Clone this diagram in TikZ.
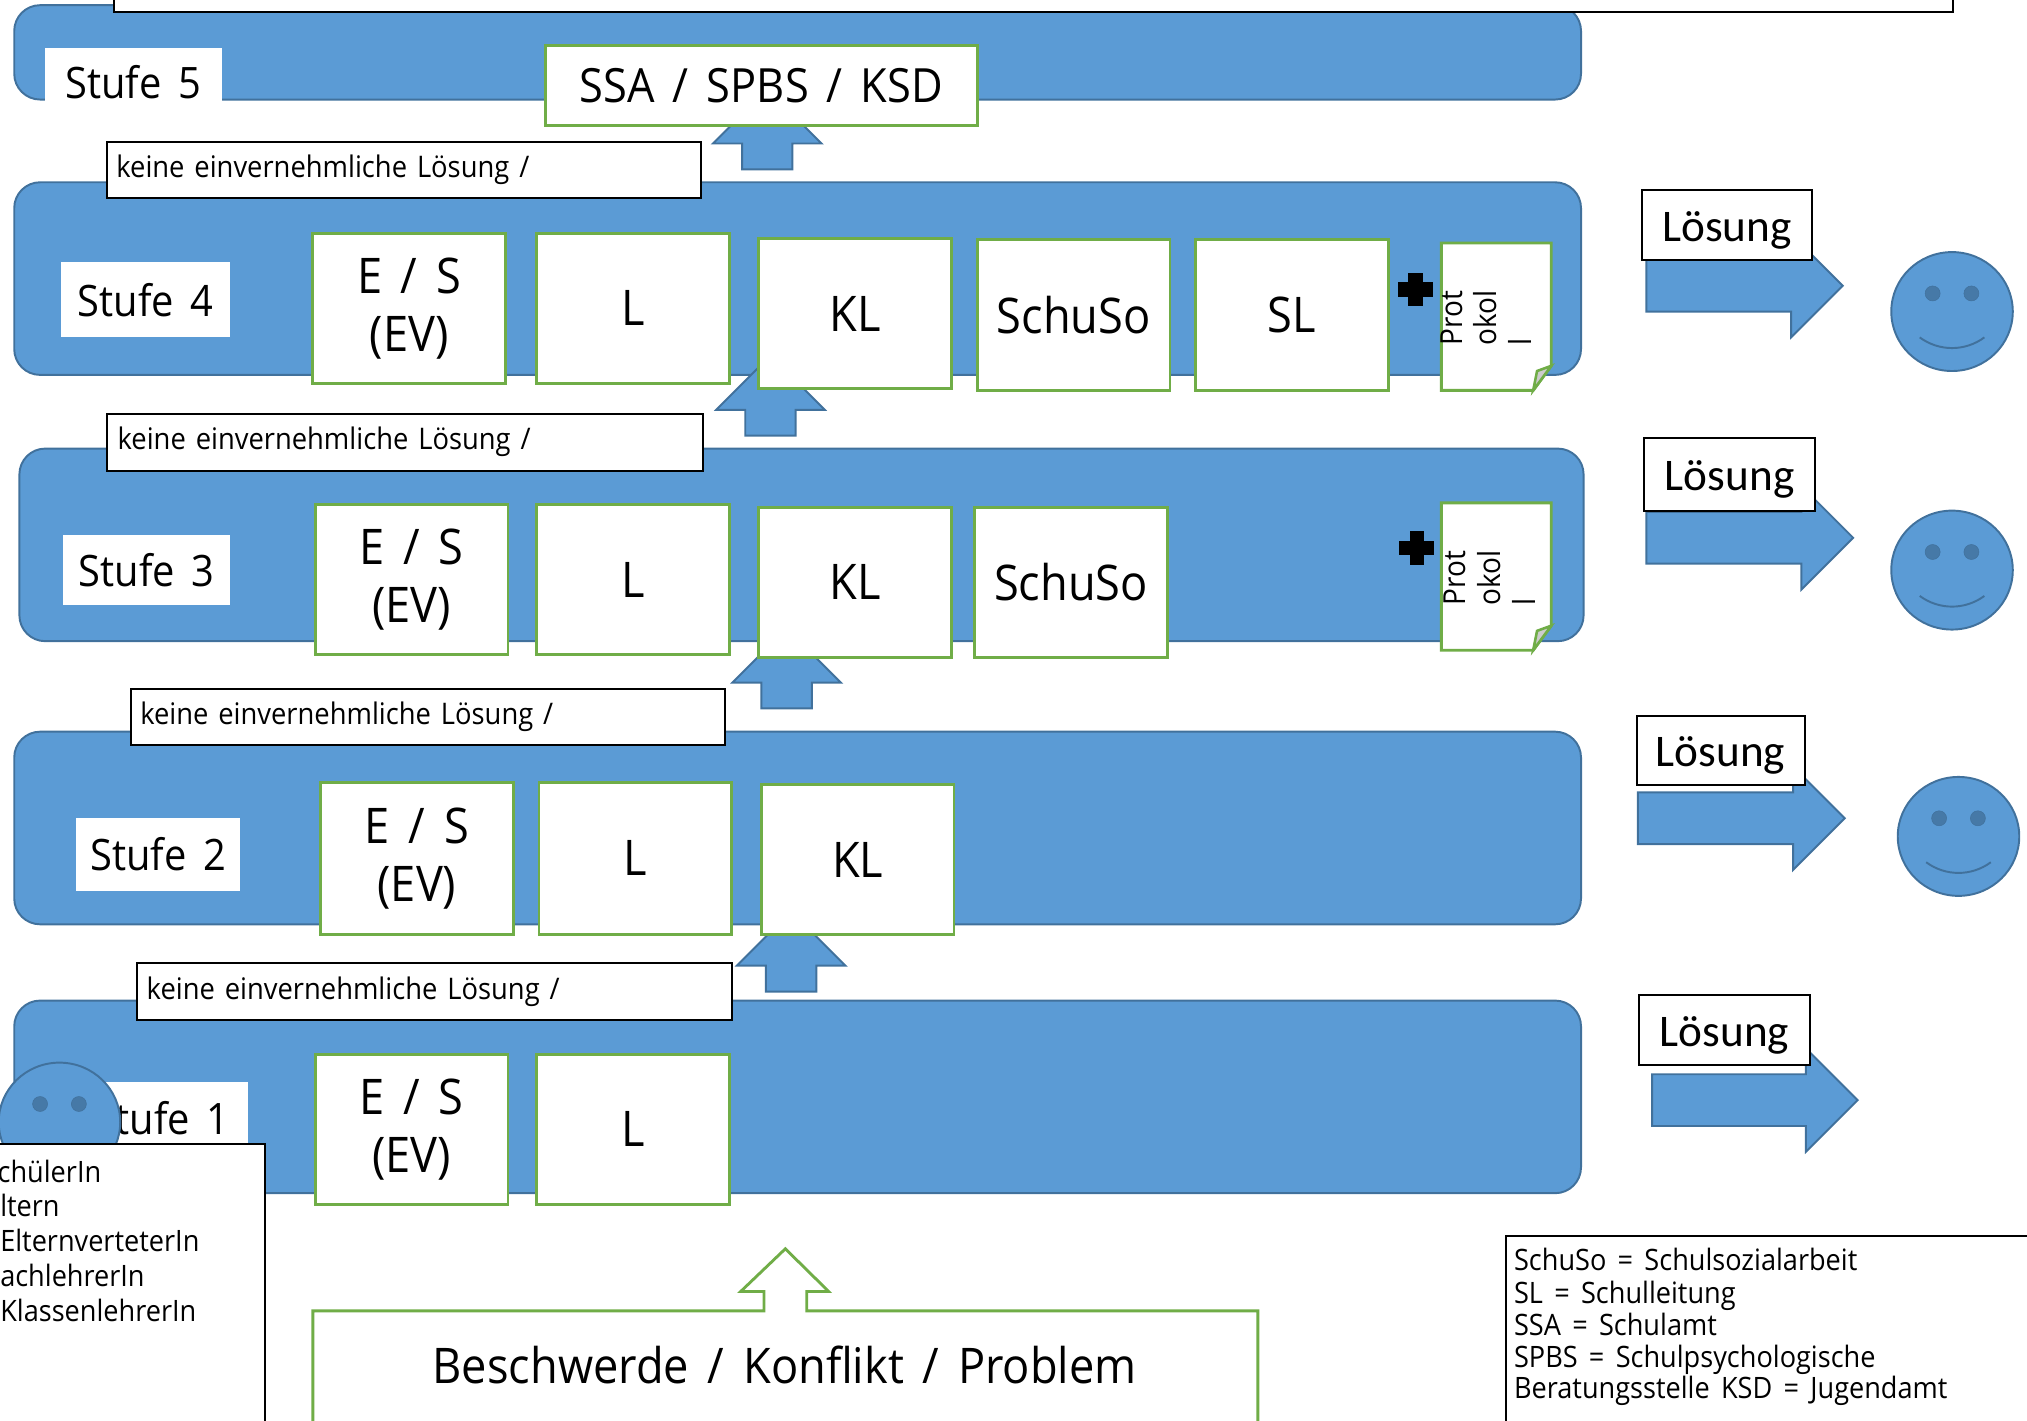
\documentclass[tikz,border=0pt]{standalone}
\usepackage{fontspec}
\setmainfont{Open Sans}[FakeStretch=0.92,WordSpace=1.6]
\newfontfamily\calfont{Carlito}
\definecolor{bandblue}{HTML}{5B9BD5}
\definecolor{bandline}{HTML}{41719C}
\definecolor{boxgreen}{HTML}{70AD47}
\tikzset{
    band/.style={draw=bandline,fill=bandblue,line width=1.5pt,rounded corners=20pt},
    bluearrow/.style={draw=bandline,fill=bandblue,line width=1.5pt},
    stufe/.style={fill=white,inner sep=0pt,font=\fontsize{33.5}{36}\selectfont},
    greenbox/.style={draw=boxgreen,fill=white,line width=2.2pt,inner sep=0pt,minimum width=149pt,minimum height=116pt,align=center,font=\fontsize{38}{45}\selectfont},
    blackbox/.style={draw=black,fill=white,line width=1.5pt},
    keine/.style={blackbox,inner sep=0pt,minimum width=459pt,minimum height=43pt,font=\fontsize{23}{26}\selectfont,text width=445pt,align=left},
    loesung/.style={blackbox,inner sep=0pt,minimum width=132pt,minimum height=54pt,text height=30pt,text depth=5pt,font=\calfont\fontsize{35}{40}\selectfont},
    listtext/.style={anchor=base west,inner sep=0pt,font=\fontsize{22.8}{26}\selectfont},
}
\begin{document}
\begin{tikzpicture}[x=1pt,y=-1pt]
    \useasboundingbox (0,0) rectangle (1568,1099.2);
    % bands
    \foreach \x/\y/\w/\h in {11/4/1212/73,11/141/1212/149,15/347/1210/149,11/566/1212/149,11/774/1212/149} {
        \draw[band] (\x,\y) rectangle ++(\w,\h);
    }
    \draw[blackbox] (88,-20) rectangle (1511,9);
    % stufe labels
    \node[stufe,minimum width=137pt,minimum height=41pt] (stufeFive) at (103.5,57.5) {};
    \node[stufe,anchor=base] (stufeFiveText) at (103,76) {Stufe 5};
    \node[stufe,minimum width=131pt,minimum height=58pt] (stufeFour) at (112.5,232) {Stufe 4};
    \node[stufe,minimum width=129pt,minimum height=54pt] (stufeThree) at (113.5,441) {Stufe 3};
    \node[stufe,minimum width=127pt,minimum height=56pt] (stufeTwo) at (122.5,661) {Stufe 2};
    \node[stufe,minimum width=134pt,minimum height=56pt] (stufeOne) at (125,865) {Stufe 1};
    % up arrows
    \foreach \x/\y in {593.5/131,596/337,608.5/548,612/767} {
        \begin{scope}[shift={(\x,\y)}]
            \draw[bluearrow] (-19.5,0) -- (-19.5,-20) -- (-42,-20) -- (0,-62) -- (42,-20) -- (19.5,-20) -- (19.5,0) -- cycle;
        \end{scope}
    }
    % stufe 5
    \node[greenbox,minimum width=334pt,minimum height=62pt,font=\fontsize{36.5}{40}\selectfont] (ssa) at (589,66) {SSA / SPBS / KSD};
    % stufe 4
    \node[greenbox] (esFour) at (316.5,238.5) {E / S\\(EV)};
    \node[greenbox] (lFour) at (489.5,238.5) {L};
    \node[greenbox] (klFour) at (661.5,242.5) {KL};
    \node[greenbox,minimum height=117pt] (schusoFour) at (830.5,243.5) {SchuSo};
    \node[greenbox,minimum height=117pt] (slFour) at (999.5,243.5) {SL};
    % stufe 3
    \node[greenbox] (esThree) at (318.5,448.5) {E / S\\(EV)};
    \node[greenbox] (lThree) at (489.5,448.5) {L};
    \node[greenbox] (klThree) at (661.5,450.5) {KL};
    \node[greenbox] (schusoThree) at (828.5,450.5) {SchuSo};
    % stufe 2
    \node[greenbox,minimum height=118pt] (esTwo) at (322.5,664) {E / S\\(EV)};
    \node[greenbox,minimum height=118pt] (lTwo) at (491.5,664) {L};
    \node[greenbox] (klTwo) at (663.5,665) {KL};
    % stufe 1
    \node[greenbox] (esOne) at (318.5,873.5) {E / S\\(EV)};
    \node[greenbox] (lOne) at (489.5,873.5) {L};
    % keine boxes
    \node[keine] (keineFour) at (312.5,131.5) {keine einvernehmliche Lösung /};
    \node[keine,minimum width=461pt,minimum height=44pt] (keineThree) at (313.5,342) {keine einvernehmliche Lösung /};
    \node[keine] (keineTwo) at (331,554.5) {keine einvernehmliche Lösung /};
    \node[keine,minimum width=460pt,minimum height=44pt] (keineOne) at (336,767) {keine einvernehmliche Lösung /};
    % protokoll sheets
    \foreach \x/\y/\t/\n in {1115/188/-1/docFour,1115/389/2/docThree} {
        \begin{scope}[shift={(\x,\y)}]
            \draw[draw=boxgreen,fill=white,line width=2.2pt] (0,0) -- (85,0) -- (85,95) -- (71,114) -- (0,114) -- cycle;
            \draw[draw=boxgreen,fill=black!20,line width=2pt] (85,95) -- (74,99) -- (71,114) -- cycle;
            \node[rotate=90,anchor=north west,inner sep=0pt,align=left,font=\fontsize{23.5}{27}\selectfont] (\n) at (\t,79.5) {Prot\\okol\\l};
        \end{scope}
    }
    % plus signs
    \foreach \x/\y in {1095/224,1096/424} {
        \begin{scope}[shift={(\x,\y)}]
            \fill[black] (-5.5,-13) rectangle (5.5,13);
            \fill[black] (-13.5,-5.5) rectangle (13.5,5.5);
        \end{scope}
    }
    % loesung arrows
    \foreach \x/\y/\l in {1273.5/221/112,1273.5/416/120,1267/633/120,1278/851/119} {
        \begin{scope}[shift={(\x,\y)}]
            \draw[bluearrow] (0,-20) -- (\l,-20) -- (\l,-40) -- (\l+40,0) -- (\l,40) -- (\l,20) -- (0,20) -- cycle;
        \end{scope}
    }
    \node[loesung] (loesungFour) at (1336,174) {Lösung};
    \node[loesung,minimum height=56pt] (loesungThree) at (1338,367) {Lösung};
    \node[loesung,minimum width=130pt,minimum height=53pt] (loesungTwo) at (1331,580.5) {Lösung};
    \node[loesung] (loesungOne) at (1334,797) {Lösung};
    % smileys
    \foreach \x/\y in {1510/241,1510/441,1515/647,46/868} {
        \begin{scope}[shift={(\x,\y)}]
            \draw[bluearrow] (0,0) ellipse (47 and 46);
            \draw[draw=bandline,fill=bandline!80!bandblue] (-15,-14) ellipse (5.8 and 5.8);
            \draw[draw=bandline,fill=bandline!80!bandblue] (15,-14) ellipse (5.8 and 5.8);
            \draw[draw=bandline,line width=1.5pt] (-25,20) .. controls (-10,31) and (10,31) .. (25,20);
        \end{scope}
    }
    % left list
    \draw[blackbox,fill=white] (-10,885) rectangle (205,1120);
    \node[listtext] (listOne) at (-2,915) {chülerIn};
    \node[listtext] (listTwo) at (0,941) {ltern};
    \node[listtext] (listThree) at (0,968) {ElternverteterIn};
    \node[listtext] (listFour) at (0,995) {achlehrerIn};
    \node[listtext] (listFive) at (0,1022) {KlassenlehrerIn};
    % right list
    \draw[blackbox,fill=white] (1165,956) rectangle (1590,1120);
    \node[listtext] (legendOne) at (1171,983) {SchuSo = Schulsozialarbeit};
    \node[listtext] (legendTwo) at (1171,1008) {SL = Schulleitung};
    \node[listtext] (legendThree) at (1171,1033) {SSA = Schulamt};
    \node[listtext] (legendFour) at (1171,1058) {SPBS = Schulpsychologische};
    \node[listtext] (legendFive) at (1171,1082) {Beratungsstelle KSD = Jugendamt};
    % problem arrow
    \draw[draw=boxgreen,fill=white,line width=2.2pt] (242,1120) -- (242,1014) -- (591,1014) -- (591,999) -- (573,999) -- (607.5,966) -- (641,999) -- (624,999) -- (624,1014) -- (973,1014) -- (973,1120);
    \node[inner sep=0pt,font=\fontsize{38}{40}\selectfont] (problem) at (607,1056) {Beschwerde / Konflikt / Problem};
\end{tikzpicture}
\end{document}
